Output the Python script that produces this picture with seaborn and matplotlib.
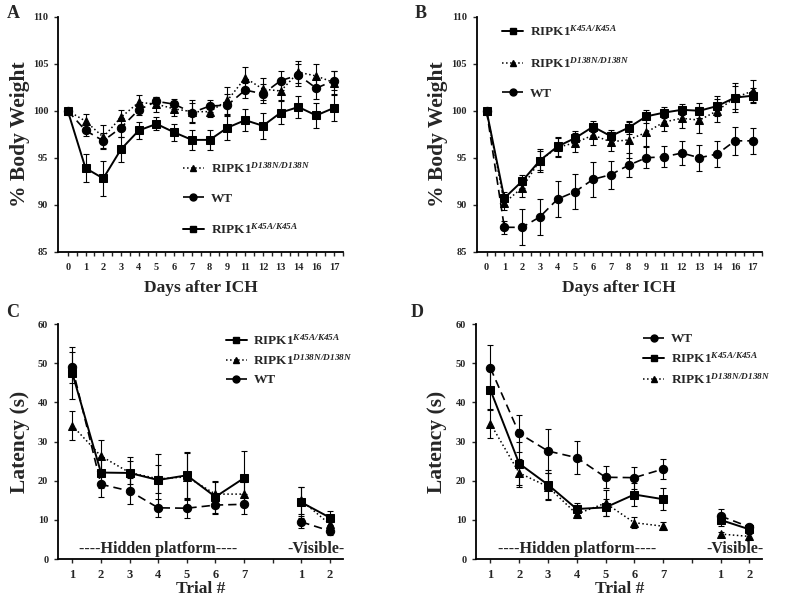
import numpy as np
import seaborn as sns
import matplotlib.pyplot as plt
from matplotlib.lines import Line2D

# ---- data ----
days = ["0", "1", "2", "3", "4", "5", "6", "7", "8", "9", "11", "12", "13", "14", "16", "17"]

# panel A (% body weight)
a_wt = [100, 97.9, 96.8, 98.2, 100.1, 101.0, 100.7, 99.8, 100.5, 100.6, 102.2, 101.8, 103.2, 103.8, 102.4, 103.2]
a_wt_err = [0, 0.6, 0.8, 1.0, 0.6, 0.5, 0.5, 1.0, 0.6, 1.2, 0.8, 1.0, 1.0, 1.2, 1.1, 1.0]
a_d138n = [100, 98.9, 97.2, 99.3, 100.9, 100.7, 100.2, 99.9, 99.9, 101.1, 103.5, 102.3, 102.1, 104.1, 103.7, 103.0]
a_d138n_err = [0, 0.8, 1.3, 0.8, 0.8, 0.8, 0.8, 1.2, 0.6, 1.4, 1.2, 1.2, 1.0, 1.2, 1.3, 1.2]
a_k45a = [100, 93.9, 92.8, 95.9, 97.9, 98.6, 97.7, 96.9, 96.9, 98.2, 99.0, 98.4, 99.8, 100.4, 99.5, 100.3]
a_k45a_err = [0, 1.5, 1.9, 1.3, 0.9, 0.7, 0.9, 1.1, 1.1, 1.3, 1.2, 1.4, 1.2, 1.2, 1.3, 1.4]

# panel B (% body weight)
b_k45a = [100, 90.7, 92.5, 94.7, 96.2, 97.1, 98.3, 97.3, 98.2, 99.4, 99.8, 100.1, 100.0, 100.5, 101.4, 101.6]
b_k45a_err = [0, 0.7, 0.7, 1.2, 1.0, 0.7, 0.6, 0.7, 0.7, 0.7, 0.6, 0.6, 0.8, 1.1, 1.5, 0.8]
b_d138n = [100, 90.2, 91.8, 94.7, 96.1, 96.6, 97.4, 96.7, 96.9, 97.7, 98.8, 99.2, 99.0, 100.0, 101.4, 102.1]
b_d138n_err = [0, 0.8, 1.0, 1.0, 1.0, 1.0, 1.0, 1.0, 1.9, 1.4, 1.0, 1.0, 1.4, 1.2, 1.2, 1.2]
b_wt = [100, 87.6, 87.6, 88.7, 90.6, 91.4, 92.7, 93.2, 94.2, 95.0, 95.1, 95.5, 95.0, 95.4, 96.8, 96.8]
b_wt_err = [0, 0.7, 1.9, 1.9, 1.9, 1.9, 1.9, 1.5, 1.3, 1.1, 1.1, 1.3, 1.4, 1.4, 1.5, 1.4]

# panels C and D (latency, s): 7 hidden-platform trials then 2 visible trials
hidden_trials = ["1", "2", "3", "4", "5", "6", "7"]
visible_trials = ["1", "2"]

c_k45a = [47.5, 22.1, 22.0, 20.2, 21.4, 15.9, 20.7]
c_k45a_err = [6.6, 4.0, 4.0, 6.6, 6.0, 4.0, 6.9]
c_k45a_vis = [14.5, 10.6]
c_k45a_vis_err = [4.0, 1.8]
c_d138n = [34.1, 26.3, 22.1, 20.5, 21.0, 16.6, 16.6]
c_d138n_err = [3.6, 4.0, 3.0, 3.5, 6.0, 3.0, 3.0]
c_d138n_vis = [15.0, 8.9]
c_d138n_vis_err = [3.5, 1.5]
c_wt = [49.0, 19.1, 17.4, 13.1, 13.0, 13.8, 14.0]
c_wt_err = [4.0, 3.2, 3.2, 2.3, 2.5, 2.2, 2.6]
c_wt_vis = [9.5, 7.2]
c_wt_vis_err = [1.6, 1.0]

d_wt = [48.8, 32.1, 27.6, 25.9, 20.9, 20.8, 23.0]
d_wt_err = [5.9, 4.7, 5.5, 4.2, 2.8, 2.8, 2.6]
d_wt_vis = [11.0, 8.2]
d_wt_vis_err = [1.8, 0.8]
d_k45a = [43.2, 24.4, 19.0, 12.8, 13.2, 16.5, 15.3]
d_k45a_err = [4.8, 5.5, 3.7, 1.5, 2.2, 3.0, 2.8]
d_k45a_vis = [10.0, 7.6]
d_k45a_vis_err = [1.5, 0.8]
d_d138n = [34.6, 22.0, 18.5, 11.5, 14.3, 9.3, 8.4]
d_d138n_err = [3.6, 3.5, 3.5, 1.0, 3.3, 1.4, 1.0]
d_d138n_vis = [6.4, 5.8]
d_d138n_vis_err = [0.6, 0.6]

LBL_K45A = r"RIPK1$^{\mathbfit{K45A/K45A}}$"
LBL_D138N = r"RIPK1$^{\mathbfit{D138N/D138N}}$"
LBL_WT = "WT"

# line style per genotype
STY = {
    "WT": dict(linestyle=(0, (5, 3)), marker="o", markersize=6, linewidth=1.2),
    "K45A": dict(linestyle="-", marker="s", markersize=6, linewidth=1.4),
    "D138N": dict(linestyle=":", marker="^", markersize=6, linewidth=1.1),
}

sns.set_style("ticks")
plt.rcParams["font.family"] = ["Liberation Serif", "DejaVu Serif"]
plt.rcParams["font.weight"] = "bold"
plt.rcParams["axes.labelweight"] = "bold"
plt.rcParams["mathtext.fontset"] = "custom"
plt.rcParams["mathtext.rm"] = "Liberation Serif:bold"
plt.rcParams["mathtext.bf"] = "Liberation Serif:bold"
plt.rcParams["mathtext.it"] = "Liberation Serif:italic:bold"
plt.rcParams["mathtext.bfit"] = "Liberation Serif:italic:bold"


def draw_series(ax, x, y, err, key):
    s = STY[key]
    ax.errorbar(x, y, yerr=err, fmt="none", ecolor="black", elinewidth=0.8,
                capsize=2, capthick=0.8, zorder=2)
    sns.lineplot(x=x, y=y, ax=ax, color="black", linestyle=s["linestyle"],
                 linewidth=s["linewidth"], marker=s["marker"],
                 markersize=s["markersize"], markeredgecolor="black",
                 markerfacecolor="black", legend=False, zorder=3)


def handle(key):
    s = STY[key]
    return Line2D([], [], color="black", linestyle=s["linestyle"],
                  linewidth=s["linewidth"], marker=s["marker"],
                  markersize=s["markersize"] - 1)


def style_axes(ax, ylabel):
    sns.despine(ax=ax)
    for sp in ["left", "bottom"]:
        ax.spines[sp].set_linewidth(1.3)
        ax.spines[sp].set_color("black")
    ax.set_ylabel(ylabel, fontsize=15.5, fontweight="bold")
    ax.yaxis.set_label_coords(-0.1, 0.5)
    ax.tick_params(axis="y", direction="out", length=3, width=1, labelsize=7.5, pad=4)


def weight_panel(ax, series, order, legend_loc):
    x = np.arange(len(days))
    for vals, err, key in series:
        draw_series(ax, x, vals, err, key)
    ax.set_xlim(-0.55, len(days) - 0.7)
    ax.set_ylim(85, 110)
    ax.set_yticks(np.arange(85, 111, 5))
    ax.set_xticks(x)
    ax.set_xticklabels(days)
    ax.set_xticks(x + 0.5, minor=True)
    ax.tick_params(axis="x", which="both", direction="out", length=3, width=1,
                   labelsize=7.5, pad=5)
    style_axes(ax, "% Body Weight")
    ax.set_xlabel("Days after ICH", fontsize=12.5, fontweight="bold", labelpad=6)
    labels = {"WT": LBL_WT, "K45A": LBL_K45A, "D138N": LBL_D138N}
    ax.legend([handle(k) for k in order], [labels[k] for k in order],
              loc="upper left", bbox_to_anchor=legend_loc, frameon=False,
              prop={"size": 9.5, "weight": "bold"}, handlelength=1.6,
              handletextpad=0.5, labelspacing=1.3, borderaxespad=0)


def latency_panel(ax, series, order, legend_loc):
    xh = np.arange(len(hidden_trials))
    xv = np.arange(len(visible_trials)) + len(hidden_trials) + 1
    for vals, err, vvals, verr, key in series:
        draw_series(ax, xh, vals, err, key)
        draw_series(ax, xv, vvals, verr, key)
    ax.set_xlim(-0.5, 9.45)
    ax.set_ylim(0, 60)
    ax.set_yticks(np.arange(0, 61, 10))
    ticks = np.arange(len(hidden_trials) + 1 + len(visible_trials))
    ax.set_xticks(ticks)
    ax.set_xticklabels(hidden_trials + [""] + visible_trials)
    ax.tick_params(axis="x", direction="out", length=3, width=1, labelsize=9, pad=4)
    style_axes(ax, "Latency (s)")
    ax.set_xlabel("Trial #", fontsize=12.5, fontweight="bold", labelpad=0)
    ax.text(3, 2.7, "----Hidden platform----", ha="center", va="center",
            fontsize=11.5, fontweight="bold")
    ax.text(8.5, 2.7, "-Visible-", ha="center", va="center",
            fontsize=11.5, fontweight="bold")
    labels = {"WT": LBL_WT, "K45A": LBL_K45A, "D138N": LBL_D138N}
    ax.legend([handle(k) for k in order], [labels[k] for k in order],
              loc="upper left", bbox_to_anchor=legend_loc, frameon=False,
              prop={"size": 9.5, "weight": "bold"}, handlelength=1.6,
              handletextpad=0.5, labelspacing=0.45, borderaxespad=0)


fig = plt.figure(figsize=(8, 5.98), dpi=100)
ax_a = fig.add_axes([0.0725, 0.579, 0.356, 0.393])
ax_b = fig.add_axes([0.596, 0.579, 0.356, 0.393])
ax_c = fig.add_axes([0.0725, 0.065, 0.356, 0.393])
ax_d = fig.add_axes([0.595, 0.065, 0.358, 0.393])

weight_panel(ax_a,
             [(a_k45a, a_k45a_err, "K45A"), (a_wt, a_wt_err, "WT"),
              (a_d138n, a_d138n_err, "D138N")],
             ["D138N", "WT", "K45A"], (0.42, 0.41))
weight_panel(ax_b,
             [(b_wt, b_wt_err, "WT"), (b_d138n, b_d138n_err, "D138N"),
              (b_k45a, b_k45a_err, "K45A")],
             ["K45A", "D138N", "WT"], (0.07, 0.99))
latency_panel(ax_c,
              [(c_wt, c_wt_err, c_wt_vis, c_wt_vis_err, "WT"),
               (c_d138n, c_d138n_err, c_d138n_vis, c_d138n_vis_err, "D138N"),
               (c_k45a, c_k45a_err, c_k45a_vis, c_k45a_vis_err, "K45A")],
              ["K45A", "D138N", "WT"], (0.57, 0.985))
latency_panel(ax_d,
              [(d_d138n, d_d138n_err, d_d138n_vis, d_d138n_vis_err, "D138N"),
               (d_k45a, d_k45a_err, d_k45a_vis, d_k45a_vis_err, "K45A"),
               (d_wt, d_wt_err, d_wt_vis, d_wt_vis_err, "WT")],
              ["WT", "K45A", "D138N"], (0.565, 0.985))

for letter, (fx, fy) in zip("ABCD", [(0.008, 0.978), (0.518, 0.978), (0.008, 0.477), (0.513, 0.477)]):
    fig.text(fx, fy, letter, fontsize=13, fontweight="bold", va="center", ha="left")

fig.savefig("out.png", dpi=100)
